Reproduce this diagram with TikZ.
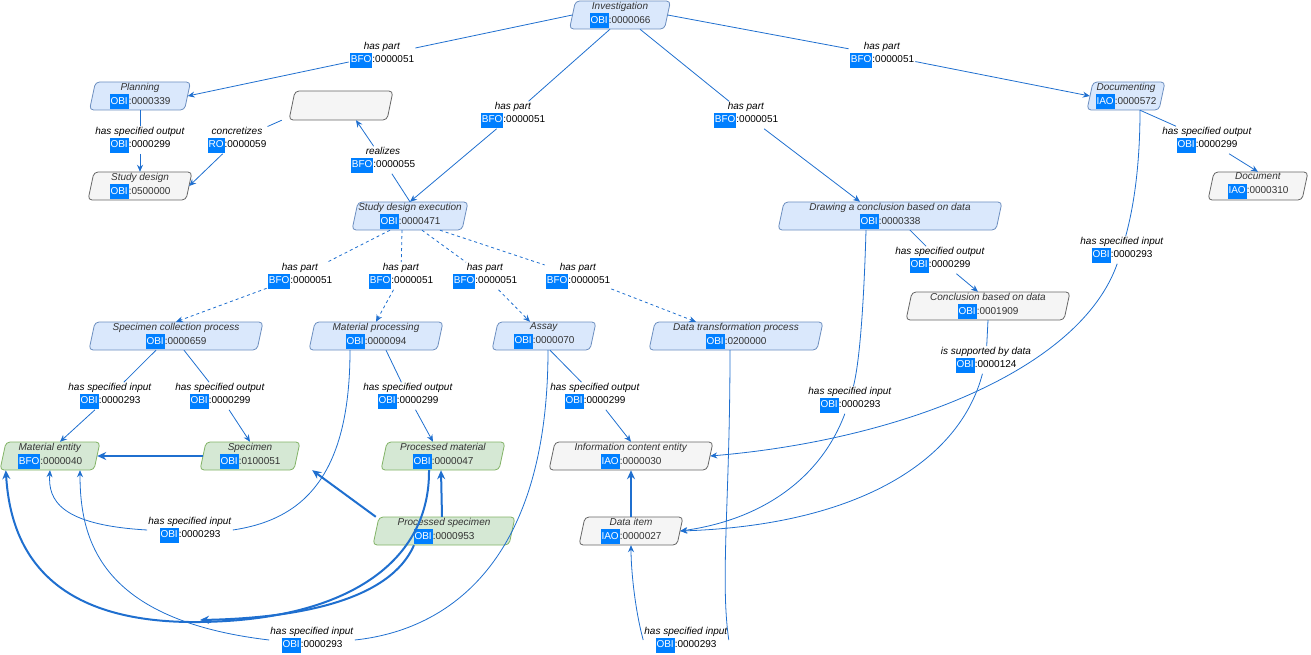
\documentclass[tikz,border=0pt]{standalone}
\usepackage{fontspec}
\setmainfont{Liberation Sans}
\usetikzlibrary{arrows.meta,calc}
\definecolor{idblue}{HTML}{007FFF}
\definecolor{ln}{HTML}{1F6FCF}
\definecolor{bfill}{HTML}{DAE8FC}\definecolor{bdraw}{HTML}{6C8EBF}
\definecolor{gfill}{HTML}{F5F5F5}\definecolor{gdraw}{HTML}{666666}
\definecolor{vfill}{HTML}{D5E8D4}\definecolor{vdraw}{HTML}{82B366}
\newcommand\oid[2]{{\setlength\fboxsep{1pt}\colorbox{idblue}{\strut\textcolor{white}{#1}}}:#2}
\newcommand\pbox[8]{%
 \path[draw=#5draw,fill=#5fill,rounded corners=4pt,line width=0.8pt] (#2-#4/2+3,#3-14)--(#2+#4/2+3,#3-14)--(#2+#4/2-3,#3+14)--(#2-#4/2-3,#3+14)--cycle;
 \node[minimum width=#4pt,minimum height=28pt,inner sep=0pt,align=center,text=black!80,font=\fontsize{10}{13}\selectfont] (#1) at (#2,#3) {\textit{#6}\\[1pt]\oid{#7}{#8}};}
\newcommand\ebox[4]{\pbox{#1}{#2}{#3}{#4}{g}{}{}{}}
\tikzset{
 lab/.style={fill=white,inner sep=1pt,align=center,font=\fontsize{10}{13}\selectfont},
 e/.style={draw=ln,line width=0.8pt,-{Stealth[length=7pt,width=6pt]}},
 en/.style={draw=ln,line width=0.8pt},
 ed/.style={draw=ln,line width=0.8pt,dashed,-{Stealth[length=7pt,width=6pt]}},
 ek/.style={draw=ln,line width=2pt,-{Stealth[length=9pt,width=8pt]}},
}
\newcommand\lbl[5]{\node[lab] (#1) at (#2,#3) {\textit{#4}\\#5};}
\begin{document}
\begin{tikzpicture}[x=1pt,y=-1pt]
\useasboundingbox (0,0) rectangle (1311,655);
% nodes
\pbox{inv}{620}{15}{95}{b}{Investigation}{OBI}{0000066}
\pbox{plan}{140}{96}{95}{b}{Planning}{OBI}{0000339}
\pbox{sd}{140}{186}{98}{g}{Study design}{OBI}{0500000}
\path[draw=gdraw,fill=gfill,rounded corners=4pt,line width=0.8pt] (295,91)--(393,91)--(387,120)--(289,120)--cycle;
\node[minimum width=98pt,minimum height=28pt] (empty) at (341,106) {};
\pbox{sde}{410}{216}{110}{b}{Study design execution}{OBI}{0000471}
\pbox{doc}{1126}{96}{72}{b}{Documenting}{IAO}{0000572}
\pbox{docu}{1258}{186}{94}{g}{Document}{IAO}{0000310}
\pbox{draw}{890}{216}{218}{b}{Drawing a conclusion based on data}{OBI}{0000338}
\pbox{concl}{988}{306}{158}{g}{Conclusion based on data}{OBI}{0001909}
\pbox{scp}{176}{336}{168}{b}{Specimen collection process}{OBI}{0000659}
\pbox{mp}{376}{336}{128}{b}{Material processing}{OBI}{0000094}
\pbox{assay}{544}{336}{98}{b}{Assay}{OBI}{0000070}
\pbox{dtp}{736}{336}{168}{b}{Data transformation process}{OBI}{0200000}
\pbox{me}{50}{456}{94}{v}{Material entity}{BFO}{0000040}
\pbox{spec}{250}{456}{94}{v}{Specimen}{OBI}{0100051}
\pbox{pm}{443}{456}{118}{v}{Processed material}{OBI}{0000047}
\pbox{ice}{631}{456}{158}{g}{Information content entity}{IAO}{0000030}
\pbox{ps}{444}{531}{136}{v}{Processed specimen}{OBI}{0000953}
\pbox{di}{631}{531}{98}{g}{Data item}{IAO}{0000027}
% labels
\lbl{l1}{382}{55}{has part}{\oid{BFO}{0000051}}
\lbl{l2}{882}{55}{has part}{\oid{BFO}{0000051}}
\lbl{l3}{513}{115}{has part}{\oid{BFO}{0000051}}
\lbl{l4}{746}{115}{has part}{\oid{BFO}{0000051}}
\lbl{l5}{140}{140}{has specified output}{\oid{OBI}{0000299}}
\lbl{l6}{237}{140}{concretizes}{\oid{RO}{0000059}}
\lbl{l7}{383}{160}{realizes}{\oid{BFO}{0000055}}
\lbl{l8}{1207}{140}{has specified output}{\oid{OBI}{0000299}}
\lbl{l9}{300}{276}{has part}{\oid{BFO}{0000051}}
\lbl{l10}{401}{276}{has part}{\oid{BFO}{0000051}}
\lbl{l11}{485}{276}{has part}{\oid{BFO}{0000051}}
\lbl{l12}{578}{276}{has part}{\oid{BFO}{0000051}}
\lbl{l13}{940}{260}{has specified output}{\oid{OBI}{0000299}}
\lbl{l14}{1122}{250}{has specified input}{\oid{OBI}{0000293}}
\lbl{l15}{986}{360}{is supported by data}{\oid{OBI}{0000124}}
\lbl{l16}{850}{400}{has specified input}{\oid{OBI}{0000293}}
\lbl{l17}{110}{396}{has specified input}{\oid{OBI}{0000293}}
\lbl{l18}{220}{396}{has specified output}{\oid{OBI}{0000299}}
\lbl{l19}{408}{396}{has specified output}{\oid{OBI}{0000299}}
\lbl{l20}{190}{530}{has specified input}{\oid{OBI}{0000293}}
\lbl{l21}{595}{396}{has specified output}{\oid{OBI}{0000299}}
\lbl{l22}{312}{640}{has specified input}{\oid{OBI}{0000293}}
\lbl{l23}{686}{640}{has specified input}{\oid{OBI}{0000293}}
% edges from investigation
\draw[en] (inv.west) -- (l1);
\draw[e] (l1) -- (plan.east);
\draw[en] (inv.east) -- (l2);
\draw[e] (l2) -- (doc.west);
\draw[en] ([xshift=-10pt]inv.south) -- (l3);
\draw[e] (l3) -- (sde.north);
\draw[en] ([xshift=20pt]inv.south) -- (l4);
\draw[e] (l4) -- ([xshift=-30pt]draw.north);
% planning area
\draw[en] (plan.south) -- (l5);
\draw[e] (l5) -- (sd.north);
\draw[en] ([xshift=-10pt]empty.south west) -- (l6);
\draw[e] (l6) -- (sd.east);
\draw[en] (sde.north) -- (l7);
\draw[e] (l7) -- ([xshift=15pt]empty.south);
\draw[en] ([xshift=14pt]doc.south) -- (l8);
\draw[e] (l8) -- (docu.north);
% dashed has part
\draw[en,dashed] ([xshift=-20pt]sde.south) -- (l9);
\draw[ed] (l9) -- (scp.north);
\draw[en,dashed] ([xshift=-8pt]sde.south) -- (l10);
\draw[ed] (l10) -- (mp.north);
\draw[en,dashed] ([xshift=12pt]sde.south) -- (l11);
\draw[ed] (l11) -- ([xshift=-14pt]assay.north);
\draw[en,dashed] ([xshift=30pt]sde.south) -- (l12);
\draw[ed] (l12) -- ([xshift=-40pt]dtp.north);
% right side
\draw[en] ([xshift=20pt]draw.south) -- (l13);
\draw[e] (l13) -- ([xshift=-10pt]concl.north);
\draw[en] ([xshift=14pt]doc.south) .. controls (1140,180) and (1130,220) .. (l14);
\draw[e] (l14) .. controls (1080,370) and (900,440) .. (ice.east);
\draw[en] (concl.south) -- (l15);
\draw[e] (l15) .. controls (960,460) and (860,525) .. (di.east);
\draw[en] ([xshift=-24pt]draw.south) .. controls (864,300) and (860,360) .. (l16);
\draw[e] (l16) .. controls (820,480) and (760,520) .. (di.east);
% lower left
\draw[en] ([xshift=-20pt]scp.south) -- (l17);
\draw[e] (l17) -- ([xshift=10pt]me.north);
\draw[en] ([xshift=8pt]scp.south) -- (l18);
\draw[e] (l18) -- (spec.north);
\draw[en] ([xshift=10pt]mp.south) -- (l19);
\draw[e] (l19) -- ([xshift=-10pt]pm.north);
\draw[en] ([xshift=-26pt]mp.south) .. controls (350,480) and (300,520) .. (l20.east);
\draw[e] (l20.west) .. controls (60,525) and (48,500) .. ([xshift=0pt]me.south);
\draw[en] ([xshift=6pt]assay.south) -- (l21);
\draw[e] (l21) -- (ice.north);
\draw[en] ([xshift=4pt]assay.south) .. controls (548,560) and (450,630) .. (l22.east);
\draw[e] (l22.west) .. controls (100,620) and (80,540) .. ([xshift=30pt]me.south);
\draw[en] ([xshift=-6pt]dtp.south) .. controls (730,500) and (720,580) .. (l23.east);
\draw[e] (l23.west) .. controls (635,610) and (631,570) .. (di.south);
% thick
\draw[ek] (spec.west) -- (me.east);
\draw[ek] (ps.north west) -- ([xshift=15pt]spec.south east);
\draw[ek] ([xshift=-2pt]ps.north) -- ([xshift=-2pt]pm.south);
\draw[ek] ([xshift=-14pt]pm.south) .. controls (430,560) and (350,620) .. (200,622) .. controls (40,624) and (10,540) .. ([xshift=3pt]me.south west);
\draw[ek] ([xshift=-30pt]ps.south) .. controls (390,600) and (300,618) .. (200,620);
\draw[ek] (di.north) -- (ice.south);
\end{tikzpicture}
\end{document}
